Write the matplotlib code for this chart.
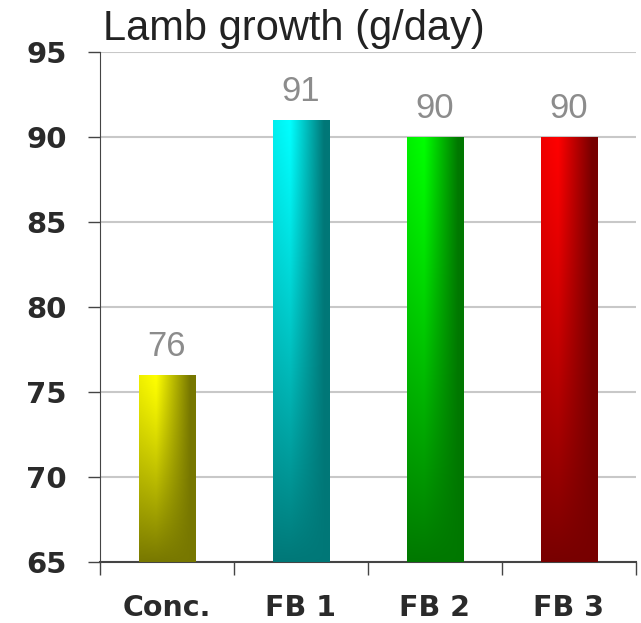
#lamb growth bar chart, gradient filled bars
import numpy as np
import matplotlib.pyplot as plt

plt.rcParams['font.family'] = ['Liberation Sans', 'DejaVu Sans']

categories = ['Conc.', 'FB 1', 'FB 2', 'FB 3']
growth = [76, 91, 90, 90]
value_labels = ['76', '91', '90', '90']
bright_colors = [(1.0, 1.0, 0.0), (0.0, 1.0, 1.0), (0.0, 1.0, 0.0), (1.0, 0.0, 0.0)]
dark_colors = [(0.47, 0.47, 0.0), (0.0, 0.47, 0.47), (0.0, 0.47, 0.0), (0.47, 0.0, 0.0)]
y_ticks = [65, 70, 75, 80, 85, 90, 95]

Title = 'Lamb growth (g/day)'


def GradientBar(ax, bar, c1, c2):
    x0 = bar.get_x()
    w = bar.get_width()
    y0 = bar.get_y()
    h = bar.get_height()
    xx, yy = np.meshgrid(np.linspace(0, 1, 80), np.linspace(0, 1, 300))
    fh = np.clip((xx - 0.3) / 0.6, 0, 1) + 0.12 * np.clip((0.3 - xx) / 0.3, 0, 1)
    fv = yy ** 1.2
    f = 1 - (1 - fh) * (1 - fv)
    img = np.zeros((300, 80, 3))
    for k in range(3):
        img[:, :, k] = c1[k] * (1 - f) + c2[k] * f
    im = ax.imshow(img, extent=[x0, x0 + w, y0, y0 + h], origin='upper',
                   aspect='auto', zorder=3, interpolation='bilinear')
    im.set_clip_path(bar)
    bar.set_alpha(0)


fig = plt.figure(figsize=(6.41, 6.23), dpi=100)
ax = fig.add_axes([0.156, 0.098, 0.836, 0.8185])

xpos = np.arange(len(categories))
bars = ax.bar(xpos, np.array(growth) - 65, bottom=65, width=0.42, zorder=3,
              color='none', edgecolor='none')
for b, c1, c2 in zip(bars, bright_colors, dark_colors):
    GradientBar(ax, b, c1, c2)

for x, v, s in zip(xpos, growth, value_labels):
    ax.text(x, v + 1.12, s, ha='center', va='baseline', fontsize=25, color='#8c8c8c')

ax.set_xlim(-0.5, 3.5)
ax.set_ylim(65, 95)
ax.set_yticks(y_ticks)
ax.set_yticklabels([str(t) for t in y_ticks], fontsize=21, fontweight='bold',
                   color='#2a2a2a', family='DejaVu Sans')
ax.yaxis.grid(True, color='#c8c8c8', linewidth=1.5, zorder=0)
ax.set_axisbelow(True)

ax.set_xticks([-0.5, 0.5, 1.5, 2.5, 3.5])
ax.set_xticklabels([])
ax.set_xticks(xpos, minor=True)
ax.set_xticklabels(categories, minor=True, fontsize=20.5, fontweight='bold',
                   color='#2a2a2a', family='DejaVu Sans')
ax.tick_params(axis='x', which='minor', length=0, pad=23)
ax.tick_params(axis='x', which='major', length=9, width=1, color='#444444', direction='out')
ax.tick_params(axis='y', length=9, width=1, color='#444444', direction='out', pad=15)

for side in ['top', 'right']:
    ax.spines[side].set_visible(False)
ax.spines['left'].set_color('#444444')
ax.spines['bottom'].set_color('#444444')
ax.spines['bottom'].set_linewidth(1.5)

fig.text(0.161, 0.936, Title, fontsize=30, color='#222222', ha='left', va='baseline')

plt.savefig('out.png')
plt.close()
